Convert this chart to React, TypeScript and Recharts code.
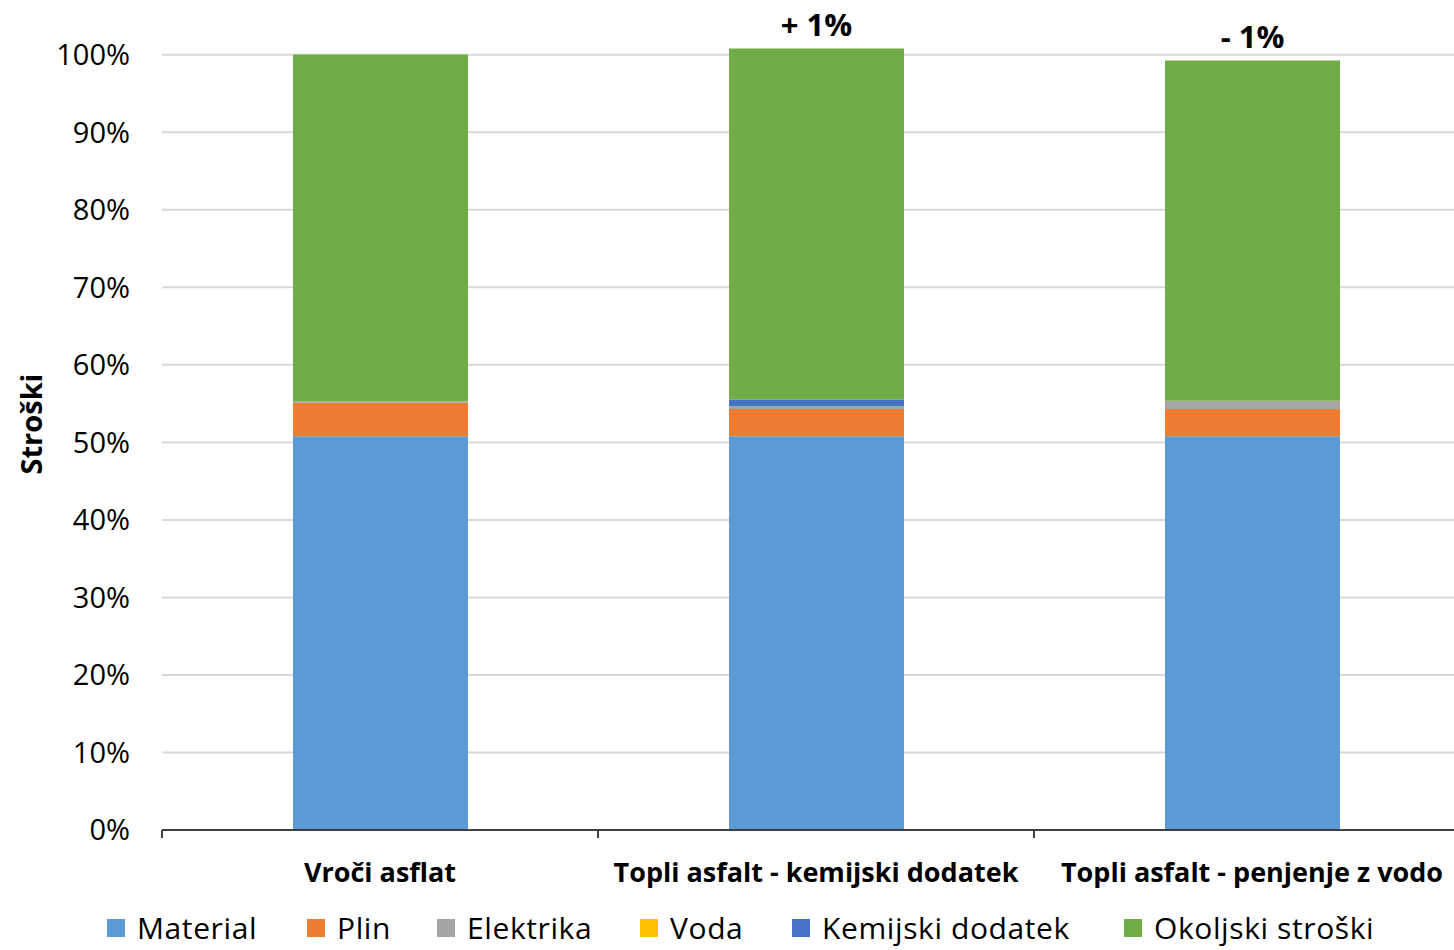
import React from "react";
import {
  Bar,
  BarChart,
  CartesianGrid,
  XAxis,
  YAxis,
  LabelList,
} from "recharts";

const categories = [
  "Vroči asflat",
  "Topli asfalt - kemijski dodatek",
  "Topli asfalt - penjenje z vodo",
];
const material = [50.8, 50.8, 50.8];
const plin = [4.3, 3.5, 3.5];
const elektrika = [0.2, 0.3, 1.05];
const voda = [0.02, 0.02, 0.02];
const kemijski = [0, 0.9, 0];
const okoljski = [44.7, 45.3, 43.9];
const changes = ["", "+ 1%", "- 1%"];
const yTicks = [0, 10, 20, 30, 40, 50, 60, 70, 80, 90, 100];

const series = [
  { key: "material", name: "Material", color: "#5B9BD5", values: material },
  { key: "plin", name: "Plin", color: "#ED7D31", values: plin },
  { key: "elektrika", name: "Elektrika", color: "#A5A5A5", values: elektrika },
  { key: "voda", name: "Voda", color: "#FFC000", values: voda },
  { key: "kemijski", name: "Kemijski dodatek", color: "#4472C4", values: kemijski },
  { key: "okoljski", name: "Okoljski stroški", color: "#70AD47", values: okoljski },
];

// legend item widths (layout only)
const legendWidths = [200, 130, 203, 152, 332, 280];

const data = categories.map((name, i) => {
  const row: Record<string, string | number> = { name };
  series.forEach((s) => (row[s.key] = s.values[i]));
  return row;
});

const FONT = "'Open Sans', sans-serif";
const HALF_BAND = 218;

function CategoryTick(props: any) {
  const { x, y, payload } = props;
  return (
    <g>
      <line x1={x - HALF_BAND} x2={x - HALF_BAND} y1={y} y2={y + 8} stroke="#404040" strokeWidth={2} />
      <text
        x={x}
        y={y + 52}
        textAnchor="middle"
        fontFamily={FONT}
        fontWeight={700}
        fontSize={27}
        fill="#000"
      >
        {payload.value}
      </text>
    </g>
  );
}

function YTitle() {
  const cx = 30;
  const cy = 424;
  return (
    <text
      x={cx}
      y={cy}
      transform={`rotate(-90 ${cx} ${cy})`}
      textAnchor="middle"
      dominantBaseline="central"
      fontFamily={FONT}
      fontWeight={700}
      fontSize={29}
      fill="#000"
    >
      Stroški
    </text>
  );
}

function ChangeLabel(props: any) {
  const { x, y, width, index } = props;
  const text = changes[index];
  if (!text) return null;
  return (
    <text
      x={x + width / 2}
      y={y - 12}
      textAnchor="middle"
      fontFamily={FONT}
      fontWeight={700}
      fontSize={31}
      fill="#000"
    >
      {text}
    </text>
  );
}

export default function App() {
  return (
    <div
      style={{
        position: "absolute",
        left: 0,
        top: 0,
        width: 1454,
        height: 950,
        overflow: "hidden",
        background: "#fff",
      }}
    >
      <BarChart
        width={1470}
        height={950}
        data={data}
        margin={{ top: 47, right: 0, bottom: 60, left: 0 }}
      >
        <CartesianGrid
          vertical={false}
          horizontalValues={yTicks}
          stroke="#d9d9d9"
          strokeWidth={2}
        />
        <XAxis
          dataKey="name"
          height={60}
          axisLine={{ stroke: "#404040", strokeWidth: 2 }}
          tickLine={false}
          tickSize={0}
          tickMargin={0}
          tick={<CategoryTick />}
          interval={0}
        />
        <YAxis
          width={162}
          domain={[0, 101]}
          ticks={yTicks}
          axisLine={false}
          tickLine={false}
          tickSize={0}
          tickMargin={32}
          tickFormatter={(v: number) => `${v}%`}
          tick={{ fontFamily: FONT, fontSize: 29, fill: "#000" }}
          label={<YTitle />}
        />
        {series.map((s, i) => (
          <Bar
            key={s.key}
            dataKey={s.key}
            name={s.name}
            stackId="a"
            fill={s.color}
            barSize={175}
            isAnimationActive={false}
          >
            {i === series.length - 1 && <LabelList dataKey={s.key} content={<ChangeLabel />} />}
          </Bar>
        ))}
      </BarChart>
      <div
        style={{
          position: "absolute",
          left: 107,
          top: 907,
          display: "flex",
          alignItems: "center",
          fontFamily: FONT,
          fontSize: 30,
          letterSpacing: 0.6,
          color: "#000",
          whiteSpace: "nowrap",
        }}
      >
        {series.map((s, i) => (
          <div key={s.key} style={{ display: "flex", alignItems: "center", width: legendWidths[i] }}>
            <span
              style={{
                display: "inline-block",
                width: 18,
                height: 18,
                background: s.color,
                marginRight: 12,
                flexShrink: 0,
              }}
            />
            <span>{s.name}</span>
          </div>
        ))}
      </div>
    </div>
  );
}
